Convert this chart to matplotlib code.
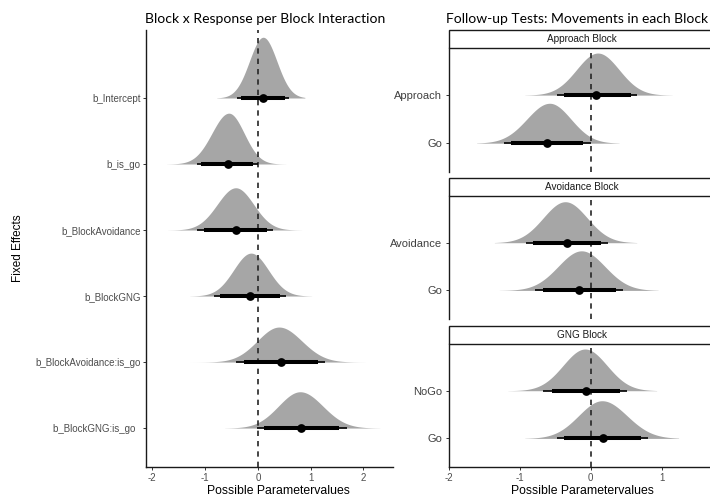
"""
Distribuciones posteriores de los efectos fijos (modelo bayesiano) y
pruebas de seguimiento por bloque, dibujadas como "half-eye" al estilo ggdist.
"""
import numpy as np
import matplotlib
matplotlib.use('Agg')
import matplotlib.pyplot as plt
from matplotlib.patches import Rectangle

# --- Panel izquierdo: efectos fijos (de arriba hacia abajo) ---
efectos = ['b_Intercept', 'b_is_go', 'b_BlockAvoidance', 'b_BlockGNG',
           'b_BlockAvoidance:is_go', 'b_BlockGNG:is_go  ']
ef_moda = [0.10, -0.55, -0.42, -0.13, 0.40, 0.80]
ef_sd_izq = [0.26, 0.32, 0.35, 0.33, 0.41, 0.41]
ef_sd_der = [0.26, 0.29, 0.34, 0.33, 0.43, 0.43]
ef_altura = [0.92, 0.77, 0.64, 0.65, 0.53, 0.55]
ef_min = [-0.78, -1.73, -1.71, -1.29, -1.29, -0.63]
ef_max = [0.89, 0.53, 0.83, 1.02, 2.03, 2.31]
ef_mediana = [0.09, -0.57, -0.42, -0.15, 0.44, 0.82]
ef_int_66 = [(-0.32, 0.51), (-1.07, -0.09), (-1.02, 0.17),
             (-0.72, 0.42), (-0.27, 1.13), (0.12, 1.54)]
ef_int_95 = [(-0.40, 0.59), (-1.16, 0.00), (-1.15, 0.28),
             (-0.83, 0.53), (-0.41, 1.28), (-0.02, 1.68)]

# --- Panel derecho: movimientos en cada bloque (fila superior, inferior) ---
bloques = ['Approach Block', 'Avoidance Block', 'GNG Block']
movimientos = [['Approach', 'Go'], ['Avoidance', 'Go'], ['NoGo', 'Go']]
mv_moda = [[0.10, -0.58], [-0.36, -0.13], [-0.08, 0.16]]
mv_sd_izq = [[0.30, 0.32], [0.31, 0.33], [0.31, 0.33]]
mv_sd_der = [[0.30, 0.30], [0.31, 0.33], [0.31, 0.35]]
mv_altura = [[0.875, 0.83], [0.86, 0.83], [0.875, 0.79]]
mv_min = [[-0.93, -1.61], [-1.36, -1.29], [-1.17, -0.93]]
mv_max = [[1.15, 0.40], [0.65, 0.95], [0.93, 1.24]]
mv_mediana = [[0.08, -0.61], [-0.34, -0.17], [-0.06, 0.17]]
mv_int_66 = [[(-0.38, 0.57), (-1.12, -0.11)],
             [(-0.82, 0.15), (-0.68, 0.35)],
             [(-0.55, 0.41), (-0.37, 0.71)]]
mv_int_95 = [[(-0.47, 0.65), (-1.22, 0.00)],
             [(-0.92, 0.24), (-0.78, 0.45)],
             [(-0.68, 0.51), (-0.48, 0.81)]]

GRIS = '#a6a6a6'
GRIS_TEXTO = '#4d4d4d'
W, H = 710, 503

plt.rcParams['font.family'] = ['Liberation Sans', 'DejaVu Sans']


def caja(x0, y0, x1, y1):
    """Convierte una caja en píxeles (origen arriba-izquierda) a coords de figura."""
    return [x0 / W, 1 - y1 / H, (x1 - x0) / W, (y1 - y0) / H]


def dibujar_halfeye(ax, y, moda, sd_izq, sd_der, altura, x_min, x_max,
                    mediana, int_66, int_95):
    x = np.linspace(x_min, x_max, 400)
    sd = np.where(x < moda, sd_izq, sd_der)
    dens = altura * np.exp(-0.5 * ((x - moda) / sd) ** 2)
    ax.fill_between(x, y, y + dens, color=GRIS, lw=0, zorder=2)
    ax.plot(int_95, [y, y], color='black', lw=1.2, solid_capstyle='butt', zorder=4)
    ax.plot(int_66, [y, y], color='black', lw=2.9, solid_capstyle='butt', zorder=5)
    ax.plot(mediana, y, 'o', color='black', ms=6.3, mew=0, zorder=6)


def estilo_ejes(ax, etiquetas_size, con_eje_x=True):
    ax.spines['top'].set_visible(False)
    ax.spines['right'].set_visible(False)
    ax.spines['left'].set_linewidth(1.0)
    ax.spines['left'].set_color('#1a1a1a')
    ax.spines['bottom'].set_linewidth(1.0)
    ax.spines['bottom'].set_color('#1a1a1a')
    ax.tick_params(axis='y', length=2.5, width=0.7, color='#333333', pad=1.5,
                   labelsize=etiquetas_size, labelcolor=GRIS_TEXTO)
    ax.tick_params(axis='x', length=2.5, width=0.7, color='#333333', pad=1.5,
                   labelsize=7, labelcolor=GRIS_TEXTO)
    if not con_eje_x:
        ax.spines['bottom'].set_visible(False)
        ax.tick_params(axis='x', bottom=False, labelbottom=False)
    ax.axvline(0, color='#262626', lw=1.2, ls=(0, (3.2, 3.0)), zorder=3)


fig = plt.figure(figsize=(W / 100, H / 100), dpi=100)

# Panel izquierdo
ax = fig.add_axes(caja(146, 30, 393, 467))
n = len(efectos)
for i in range(n):
    y = n - i
    dibujar_halfeye(ax, y, ef_moda[i], ef_sd_izq[i], ef_sd_der[i], ef_altura[i],
                    ef_min[i], ef_max[i], ef_mediana[i], ef_int_66[i], ef_int_95[i])
ax.set_xlim(-2.12, 2.56)
ax.set_ylim(0.41, 7.03)
ax.set_yticks(range(n, 0, -1))
ax.set_yticklabels(efectos)
ax.set_xticks([-2, -1, 0, 1, 2])
ax.set_xticklabels(['-2', '-1', '0', '1', '2'])
estilo_ejes(ax, 7)

fig.text(145 / W, 1 - 23 / H, 'Block x Response per Block Interaction',
         family='Lato', fontsize=10.1, ha='left', va='baseline')
fig.text(278 / W, 1 - 494 / H, 'Possible Parametervalues', fontsize=8.8,
         ha='center', va='baseline')
fig.text(18 / W, 1 - 248 / H, 'Fixed Effects', fontsize=8.5, rotation=90,
         ha='center', va='center')

# Panel derecho: una faceta por bloque
x_izq, x_der = 449, 715
paneles = [(48, 172), (196, 319), (344, 467)]
for b, (y0, y1) in enumerate(paneles):
    axb = fig.add_axes(caja(x_izq, y0, x_der, y1))
    for j in range(2):
        y = 2 - j
        dibujar_halfeye(axb, y, mv_moda[b][j], mv_sd_izq[b][j], mv_sd_der[b][j],
                        mv_altura[b][j], mv_min[b][j], mv_max[b][j],
                        mv_mediana[b][j], mv_int_66[b][j], mv_int_95[b][j])
    axb.set_xlim(-2.0, 1.754)
    axb.set_ylim(0.4, 2.98)
    axb.set_yticks([2, 1])
    axb.set_yticklabels(movimientos[b])
    axb.set_xticks([-2, -1, 0, 1])
    axb.set_xticklabels(['-2', '-1', '0', '1'])
    estilo_ejes(axb, 8, con_eje_x=(b == len(paneles) - 1))
    axb.tick_params(axis='y', pad=2.5, labelcolor='#404040')

    # Tira con el nombre del bloque
    fig.add_artist(Rectangle((x_izq / W, 1 - y0 / H), (x_der - x_izq) / W,
                             18.5 / H, transform=fig.transFigure,
                             facecolor='white', edgecolor='#1a1a1a', lw=1.0))
    fig.text((x_izq + x_der) / 2 / W, 1 - (y0 - 9.5) / H, bloques[b],
             fontsize=7.2, color='#1a1a1a', ha='center', va='center')

fig.text(446 / W, 1 - 23 / H, 'Follow-up Tests: Movements in each Block',
         family='Lato', fontsize=10.0, ha='left', va='baseline')
fig.text(582 / W, 1 - 494 / H, 'Possible Parametervalues', fontsize=8.8,
         ha='center', va='baseline')

fig.savefig('out.png', dpi=100)
